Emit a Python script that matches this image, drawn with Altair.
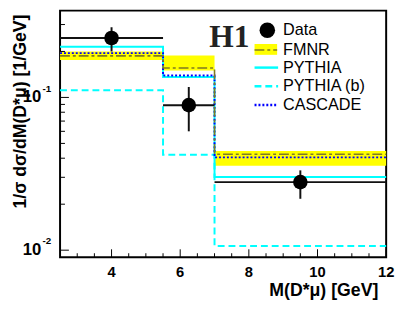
import altair as alt
import pandas as pd

# ---- data ----
edges = [2.5, 5.5, 7.0, 12.0]
data_x = [4.0, 6.25, 9.5]
data_y = [0.245, 0.089, 0.0279]
data_err_lo = [0.200, 0.060, 0.0217]
data_err_hi = [0.288, 0.117, 0.0333]
fmnr = [0.187, 0.156, 0.0425]
fmnr_lo = [0.176, 0.150, 0.0357]
fmnr_hi = [0.1995, 0.188, 0.0446]
pythia = [0.215, 0.136, 0.0301]
pythia_b = [0.1114, 0.0421, 0.01066]
cascade = [0.195, 0.139, 0.0405]

x_major = [4, 6, 8, 10, 12]
x_minor = [3, 3.5, 4.5, 5, 5.5, 6.5, 7, 7.5, 8.5, 9, 9.5, 10.5, 11, 11.5]
y_major = [0.01, 0.1]
y_exp = ["-2", "-1"]
y_minor = [0.02, 0.03, 0.04, 0.05, 0.06, 0.07, 0.08, 0.09, 0.2, 0.3]
legend_labels = ["Data", "FMNR", "PYTHIA", "PYTHIA (b)", "CASCADE"]
x_title = "M(D*μ) [GeV]"
y_title = "1/σ dσ/dM(D*μ) [1/GeV]"

W, H = 332, 251
FONT = "Liberation Sans"
OLIVE = "#7f7a22"
CYAN = "#00ffff"
BLUE = "#0000ff"

xs = alt.Scale(domain=[2.5, 12], nice=False, zero=False)
ys = alt.Scale(type="log", domain=[0.009, 0.37], nice=False)

bins = pd.DataFrame({
    "lo": edges[:-1], "hi": edges[1:],
    "flo": fmnr_lo, "fhi": fmnr_hi,
    "x": data_x, "y": data_y, "elo": data_err_lo, "ehi": data_err_hi,
})


def step_df(vals):
    return pd.DataFrame({"e": edges, "v": list(vals) + [vals[-1]]})


one = pd.DataFrame({"k": [0]})


def X(f):
    return alt.X(f, scale=xs, axis=None)


def Y(f):
    return alt.Y(f, scale=ys, axis=None)


band = alt.Chart(bins).mark_rect(color="#ffff00").encode(
    x=X("lo:Q"), x2="hi:Q", y=Y("flo:Q"), y2="fhi:Q")


def step_line(vals, color, dash, width=2):
    kw = dict(interpolate="step-after", color=color, strokeWidth=width)
    if dash:
        kw["strokeDash"] = dash
    return alt.Chart(step_df(vals)).mark_line(**kw).encode(x=X("e:Q"), y=Y("v:Q"))


l_pb = step_line(pythia_b, CYAN, [7, 4])
l_p = step_line(pythia, CYAN, None)
l_c = step_line(cascade, BLUE, [2, 2])
l_f = step_line(fmnr, OLIVE, [10, 3, 3, 3], 1.6)

hbar = alt.Chart(bins).mark_rule(color="#111", strokeWidth=2).encode(
    x=X("lo:Q"), x2="hi:Q", y=Y("y:Q"))
vbar = alt.Chart(bins).mark_rule(color="#111", strokeWidth=2).encode(
    x=X("x:Q"), y=Y("elo:Q"), y2="ehi:Q")
pts = alt.Chart(bins).mark_point(shape="circle", filled=True, color="black",
                                 opacity=1, size=220).encode(x=X("x:Q"), y=Y("y:Q"))

# ---- inward ticks ----
xmaj = alt.Chart(pd.DataFrame({"v": x_major})).mark_rule(color="black", strokeWidth=1).encode(
    x=X("v:Q"), y=alt.value(H), y2=alt.value(H - 8))
xmin = alt.Chart(pd.DataFrame({"v": x_minor})).mark_rule(color="black", strokeWidth=1).encode(
    x=X("v:Q"), y=alt.value(H), y2=alt.value(H - 4))
ymaj = alt.Chart(pd.DataFrame({"v": y_major})).mark_rule(color="black", strokeWidth=1).encode(
    y=Y("v:Q"), x=alt.value(0), x2=alt.value(9))
ymin = alt.Chart(pd.DataFrame({"v": y_minor})).mark_rule(color="black", strokeWidth=1).encode(
    y=Y("v:Q"), x=alt.value(0), x2=alt.value(5))

# ---- tick labels and titles ----
xlab = alt.Chart(pd.DataFrame({"v": x_major})).mark_text(
    align="center", baseline="alphabetic", font=FONT, fontSize=15,
    fontWeight="bold", color="black").encode(
    x=X("v:Q"), y=alt.value(H + 20), text="v:N")

ylab_df = pd.DataFrame({"v": y_major, "e": y_exp})
ylab = alt.Chart(ylab_df).mark_text(align="right", baseline="middle", font=FONT,
                                    fontSize=17, fontWeight="bold", color="black").encode(
    y=Y("v:Q"), x=alt.value(-19), text=alt.value("10"))
yexp = alt.Chart(ylab_df).mark_text(align="left", baseline="middle", font=FONT,
                                    fontSize=10, fontWeight="bold", color="black", dy=-9).encode(
    y=Y("v:Q"), x=alt.value(-18), text="e:N")

xt = alt.Chart(one).mark_text(text=x_title, font=FONT, fontSize=18, fontWeight="bold",
                              color="black", align="right", baseline="alphabetic").encode(
    x=alt.value(W - 8), y=alt.value(H + 40))
yt = alt.Chart(one).mark_text(text=y_title, font=FONT, fontSize=18, fontWeight="bold",
                              color="black", align="right", baseline="alphabetic",
                              angle=270).encode(
    x=alt.value(-35), y=alt.value(4))

# ---- legend ----
h1 = alt.Chart(one).mark_text(text="H1", font="Liberation Serif", fontSize=32,
                              fontWeight="bold", color="#222", align="left",
                              baseline="alphabetic").encode(x=alt.value(152), y=alt.value(37))
lg_pt = alt.Chart(one).mark_point(shape="circle", filled=True, color="black", opacity=1,
                                  size=250).encode(x=alt.value(211), y=alt.value(20))
lg_band = alt.Chart(one).mark_rect(color="#ffff00").encode(
    x=alt.value(198), x2=alt.value(221), y=alt.value(34), y2=alt.value(45))
lg_f = alt.Chart(one).mark_rule(color=OLIVE, strokeWidth=1.6, strokeDash=[10, 3, 3, 3]).encode(
    x=alt.value(198), x2=alt.value(221), y=alt.value(40))
lg_p = alt.Chart(one).mark_rule(color=CYAN, strokeWidth=2.5).encode(
    x=alt.value(198), x2=alt.value(222), y=alt.value(58))
lg_pb = alt.Chart(one).mark_rule(color=CYAN, strokeWidth=2.5, strokeDash=[7, 4]).encode(
    x=alt.value(198), x2=alt.value(222), y=alt.value(77))
lg_c = alt.Chart(one).mark_rule(color=BLUE, strokeWidth=2.5, strokeDash=[2, 2]).encode(
    x=alt.value(198), x2=alt.value(222), y=alt.value(96))

legend_y = [20, 40, 58, 77, 96]
lg_texts = [
    alt.Chart(one).mark_text(text=lab, font=FONT, fontSize=16.5, color="black",
                             align="left", baseline="middle").encode(
        x=alt.value(227), y=alt.value(yy))
    for lab, yy in zip(legend_labels, legend_y)
]

chart = alt.layer(
    band, l_pb, l_p, l_c, l_f, hbar, vbar, pts,
    xmaj, xmin, ymaj, ymin, xlab, ylab, yexp, xt, yt,
    h1, lg_band, lg_f, lg_p, lg_pb, lg_c, lg_pt, *lg_texts,
).properties(
    width=W, height=H, background="white",
    padding={"left": 53, "top": 0, "right": 9, "bottom": 45},
    autosize=alt.AutoSizeParams(type="none"),
).configure_view(stroke="black", strokeWidth=2)

chart.save("out.html", embed_options={"renderer": "svg", "actions": False})
